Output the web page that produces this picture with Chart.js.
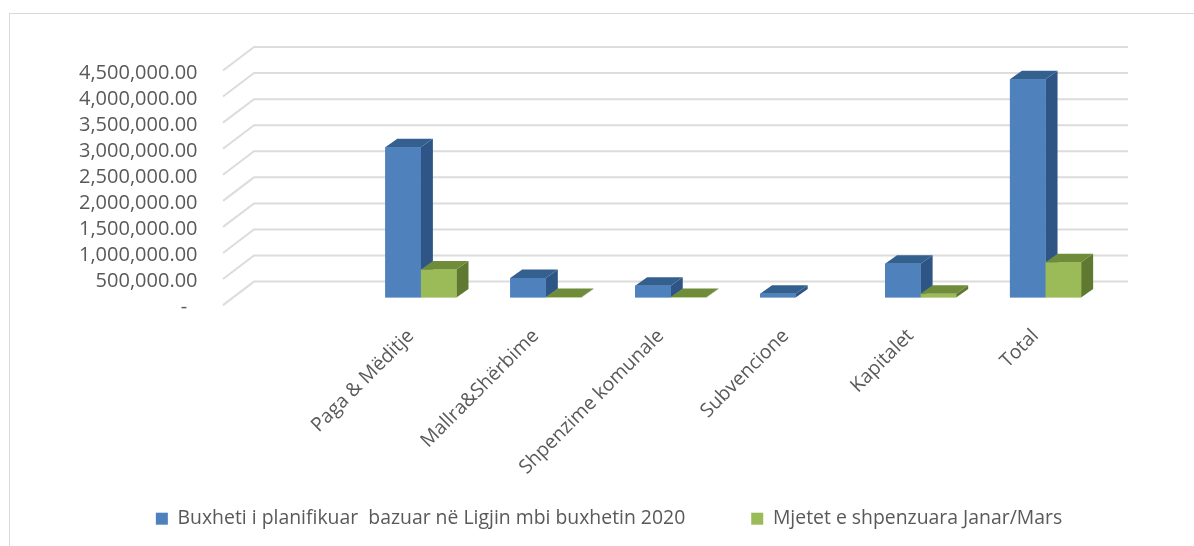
<!DOCTYPE html>
<html>
<head>
<meta charset="utf-8">
<script src="https://cdn.jsdelivr.net/npm/chart.js@4"></script>
<style>
html,body{margin:0;padding:0;background:#fff;overflow:hidden;width:1194px;height:546px}
#frame{position:absolute;left:9px;top:13px;width:1185px;height:533px;border-left:1.5px solid #d9d9d9;border-top:1.5px solid #d9d9d9;box-sizing:border-box}
canvas{position:absolute;left:0;top:0}
</style>
</head>
<body>
<div id="frame"></div>
<canvas id="c" width="1194" height="546"></canvas>
<script>
const categories = ['', 'Paga & Mëditje', 'Mallra&Shërbime', 'Shpenzime komunale', 'Subvencione', 'Kapitalet', 'Total'];
const planned = [null, 2885000, 375000, 225000, 75000, 650000, 4186000];
const spent = [null, 538000, 12000, 10000, null, 75000, 680000];
const seriesNames = ['Buxheti i planifikuar  bazuar në Ligjin mbi buxhetin 2020', 'Mjetet e shpenzuara Janar/Mars'];
const axisMax = 4500000;
const axisStep = 500000;

const FONT = '"Open Sans", sans-serif';
const TEXT = '#595959';
const depth = {x: 12, y: 8.5};
const colors = [
  {front: '#4f81bd', top: '#34608f', side: '#2f5587'},
  {front: '#9bbb59', top: '#6f8c3a', side: '#5f7a30'}
];

const wall = {
  id: 'wall',
  beforeDatasetsDraw(chart) {
    const {ctx, chartArea: a, scales: {y}} = chart;
    ctx.save();
    ctx.strokeStyle = '#dcdcdc';
    ctx.lineWidth = 2;
    y.ticks.forEach(t => {
      const py = y.getPixelForValue(t.value);
      ctx.beginPath();
      ctx.moveTo(a.left - 10.5, py + 7.5);
      ctx.lineTo(a.left + 20.5, py - 16);
      ctx.lineTo(a.right + 20, py - 16);
      ctx.stroke();
    });
    ctx.restore();
  }
};

const box3d = {
  id: 'box3d',
  afterDatasetsDraw(chart) {
    const {ctx} = chart;
    chart.data.datasets.forEach((ds, di) => {
      const c = colors[di];
      chart.getDatasetMeta(di).data.forEach((b, i) => {
        if (ds.data[i] == null) return;
        const l = b.x - b.width / 2, r = b.x + b.width / 2, t = b.y, bot = b.base;
        ctx.save();
        ctx.fillStyle = c.side;
        ctx.beginPath();
        ctx.moveTo(r, t); ctx.lineTo(r + depth.x, t - depth.y);
        ctx.lineTo(r + depth.x, bot - depth.y); ctx.lineTo(r, bot);
        ctx.closePath(); ctx.fill();
        ctx.fillStyle = c.top;
        ctx.beginPath();
        ctx.moveTo(l, t); ctx.lineTo(l + depth.x, t - depth.y);
        ctx.lineTo(r + depth.x, t - depth.y); ctx.lineTo(r, t);
        ctx.closePath(); ctx.fill();
        ctx.restore();
        b.draw(ctx);
      });
    });
  }
};

const moveLegend = {
  id: 'moveLegend',
  afterLayout(chart) {
    chart.legend.top = 443;
    chart.legend.left += 55;
    chart.legend.right += 55;
    chart.scales.x.bottom = 546;
  }
};

new Chart(document.getElementById('c'), {
  type: 'bar',
  data: {
    labels: categories,
    datasets: [
      {label: seriesNames[0], data: planned, backgroundColor: colors[0].front},
      {label: seriesNames[1], data: spent, backgroundColor: colors[1].front}
    ]
  },
  plugins: [wall, box3d, moveLegend],
  options: {
    responsive: false,
    animation: false,
    layout: {padding: {left: 0, right: 86, top: 63, bottom: 0}},
    categoryPercentage: 0.57,
    barPercentage: 1,
    scales: {
      x: {
        offset: true,
        grid: {display: false},
        border: {display: false},
        afterFit(s) { s.height = 153; },
        ticks: {
          autoSkip: false,
          minRotation: 45,
          maxRotation: 45,
          padding: 19,
          labelOffset: -10,
          color: TEXT,
          font: {family: FONT, size: 19.4}
        }
      },
      y: {
        min: 0,
        max: axisMax,
        grid: {display: false},
        border: {display: false},
        afterFit(s) { s.width = 233.5; },
        ticks: {
          autoSkip: false,
          stepSize: axisStep,
          padding: 28,
          labelOffset: 10,
          color: TEXT,
          font: {family: FONT, size: 20},
          callback: v => v === 0 ? '-  ' : v.toLocaleString('en-US', {minimumFractionDigits: 2, maximumFractionDigits: 2})
        }
      }
    },
    plugins: {
      tooltip: {enabled: false},
      legend: {
        position: 'bottom',
        labels: {
          boxWidth: 12,
          boxHeight: 12,
          padding: 66,
          color: TEXT,
          font: {family: FONT, size: 19.4}
        }
      }
    }
  }
});
</script>
</body>
</html>
